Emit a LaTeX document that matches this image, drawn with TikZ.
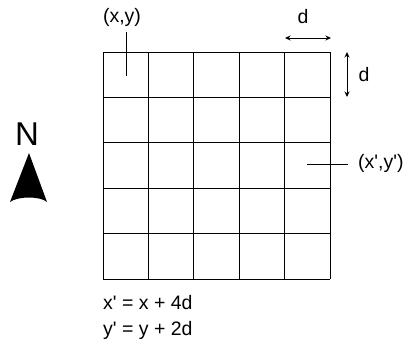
\documentclass[tikz,border=0pt]{standalone}
\usepackage{fontspec}
\setmainfont{Liberation Sans}
\usetikzlibrary{arrows.meta}

\begin{document}
\begin{tikzpicture}[
    x=1pt, y=-1pt,
    gridline/.style={draw=black, line width=0.9pt},
    leader/.style={draw=black, line width=0.9pt},
    dimline/.style={line width=0.9pt,
       {Stealth[length=5.5pt,width=5pt]}-{Stealth[length=5.5pt,width=5pt]}},
    lbl/.style={inner sep=0pt, font=\fontsize{19.5}{23}\selectfont}
    ]
\useasboundingbox (0,0) rectangle (404,343);

% 5x5 grid
\foreach \i in {0,...,5} {
   \draw [gridline] (103+\i*45.4,52) -- (103+\i*45.4,279);
   \draw [gridline] (103,52+\i*45.4) -- (330,52+\i*45.4);
  }

% start cell
\node [lbl] (xy) at (122,17) {(x,y)};
\coordinate (xy-top) at (126,32);
\coordinate (xy-end) at (126,76);
\draw [leader] (xy-top) -- (xy-end);

% cell size
\coordinate (dh-a) at (285,38);
\coordinate (dh-b) at (331,38);
\draw [dimline] (dh-a) -- (dh-b);
\node [lbl] (dh) at (303,17) {d};
\coordinate (dv-a) at (347,52);
\coordinate (dv-b) at (347,97);
\draw [dimline] (dv-a) -- (dv-b);
\node [lbl] (dv) at (364,75) {d};

% target cell
\node [lbl, anchor=west] (xpyp) at (358,163) {(x\textquotesingle,y\textquotesingle)};
\coordinate (p-a) at (307,164);
\coordinate (p-b) at (348,164);
\draw [leader] (p-a) -- (p-b);

% north
\node [inner sep=0pt, font=\fontsize{33}{36}\selectfont] (north) at (27,134) {N};
\fill (29,153) -- (47,202) .. controls (40,196) and (18,196) .. (10,202) -- cycle;

% offsets
\node [lbl, anchor=west] (eqx) at (103,303) {x\textquotesingle{} = x + 4d};
\node [lbl, anchor=west] (eqy) at (103,330) {y\textquotesingle{} = y + 2d};
\end{tikzpicture}
\end{document}
